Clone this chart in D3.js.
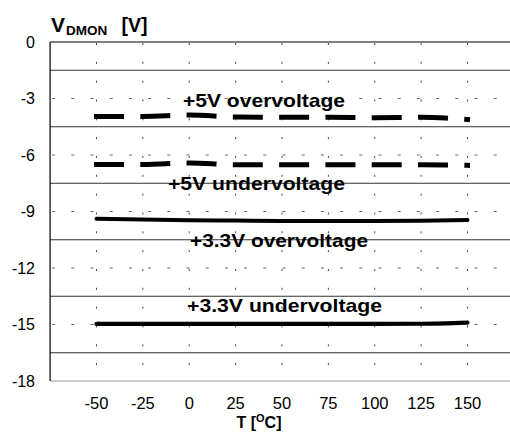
<!DOCTYPE html>
<html>
<head>
<meta charset="utf-8">
<script src="https://cdn.jsdelivr.net/npm/d3@7/dist/d3.min.js"></script>
<style>
  html, body { margin: 0; padding: 0; background: #fff; }
  svg { display: block; font-family: "Liberation Sans", Arial, sans-serif; }
</style>
</head>
<body>
<svg id="chart" width="510" height="432"></svg>
<script>
// ---- data ----
const temps = [-50, -25, 0, 25, 50, 75, 100, 125, 150];
const ov5  = [-3.95, -3.95, -3.88, -3.98, -4.0, -4.0, -4.02, -4.0, -4.12];
const uv5  = [-6.5, -6.5, -6.42, -6.52, -6.52, -6.52, -6.52, -6.52, -6.55];
const ov33 = [-9.38, -9.43, -9.46, -9.48, -9.5, -9.5, -9.5, -9.49, -9.45];
const uv33 = [-14.97, -14.97, -14.97, -14.97, -14.97, -14.97, -14.97, -14.96, -14.9];
const xTicks = [-50, -25, 0, 25, 50, 75, 100, 125, 150];
const yTicks = [0, -3, -6, -9, -12, -15, -18];
const yMinor = [-1.5, -4.5, -7.5, -10.5, -13.5, -16.5];
const labels = ["+5V overvoltage", "+5V undervoltage", "+3.3V overvoltage", "+3.3V undervoltage"];

const svg = d3.select("#chart");
const x = d3.scaleLinear().domain([-75, 175]).range([50.1, 513.9]);
const y = d3.scaleLinear().domain([-18, 0]).range([381, 42]);

// solid horizontal grid lines
svg.append("g").selectAll("line").data(yMinor).join("line")
  .attr("x1", x(-75)).attr("x2", x(175))
  .attr("y1", d => y(d)).attr("y2", d => y(d))
  .attr("stroke", "#333").attr("stroke-width", 1);

// dashed horizontal grid lines at labeled ticks
svg.append("g").selectAll("line").data(yTicks.filter(d => d !== 0 && d !== -18)).join("line")
  .attr("x1", x(-75) + 2).attr("x2", x(175))
  .attr("y1", d => y(d)).attr("y2", d => y(d))
  .attr("stroke", "#666").attr("stroke-width", 1)
  .attr("stroke-dasharray", "3,16.2");

// dashed vertical grid lines
svg.append("g").selectAll("line").data(xTicks).join("line")
  .attr("x1", d => x(d)).attr("x2", d => x(d))
  .attr("y1", y(0) + 1).attr("y2", y(-18))
  .attr("stroke", "#444").attr("stroke-width", 1)
  .attr("stroke-dasharray", "2,16.83");

// frame
svg.append("line").attr("x1", x(-75)).attr("x2", x(175)).attr("y1", y(0)).attr("y2", y(0))
  .attr("stroke", "#555").attr("stroke-width", 1.5);
svg.append("line").attr("x1", x(-75)).attr("x2", x(175)).attr("y1", y(-18)).attr("y2", y(-18))
  .attr("stroke", "#999").attr("stroke-width", 1.2);
svg.append("line").attr("x1", x(-75)).attr("x2", x(-75)).attr("y1", y(0)).attr("y2", y(-18))
  .attr("stroke", "#000").attr("stroke-width", 1.2);

// y tick labels
svg.append("g").selectAll("text").data(yTicks).join("text")
  .attr("x", 35).attr("y", d => y(d)).attr("dy", "0.36em")
  .attr("text-anchor", "end").attr("font-size", 16).text(d => d);

// x tick labels
svg.append("g").selectAll("text").data(xTicks).join("text")
  .attr("x", d => x(d)).attr("y", 409)
  .attr("text-anchor", "middle").attr("font-size", 16.5).text(d => d);

// series
const line = d3.line().x((d, i) => x(temps[i])).y(d => y(d)).curve(d3.curveMonotoneX);
svg.append("path").attr("d", line(ov5)).attr("fill", "none").attr("stroke", "#000")
  .attr("stroke-width", 5).attr("stroke-linecap", "square").attr("stroke-dasharray", "25,21.3");
svg.append("path").attr("d", line(uv5)).attr("fill", "none").attr("stroke", "#000")
  .attr("stroke-width", 5).attr("stroke-linecap", "square").attr("stroke-dasharray", "25,21.3");
svg.append("path").attr("d", line(ov33)).attr("fill", "none").attr("stroke", "#000")
  .attr("stroke-width", 4).attr("stroke-linecap", "round");
svg.append("path").attr("d", line(uv33)).attr("fill", "none").attr("stroke", "#000")
  .attr("stroke-width", 4.2).attr("stroke-linecap", "round");

// series labels
const labPos = [
  {x: 183, y: 106.5, w: 162},
  {x: 168, y: 190, w: 177},
  {x: 190, y: 247, w: 178},
  {x: 187, y: 311.5, w: 195}
];
svg.append("g").selectAll("text").data(labels).join("text")
  .attr("x", (d, i) => labPos[i].x).attr("y", (d, i) => labPos[i].y)
  .attr("font-size", 18.5).attr("font-weight", "bold")
  .attr("textLength", (d, i) => labPos[i].w).attr("lengthAdjust", "spacingAndGlyphs")
  .text(d => d);

// y axis title
const yt = svg.append("text").attr("x", 51).attr("y", 31.5).attr("font-weight", "bold");
yt.append("tspan").attr("font-size", 21).text("V");
yt.append("tspan").attr("font-size", 13.5).attr("dx", 1).attr("dy", 3).text("DMON");
svg.append("text").attr("x", 121.5).attr("y", 31.5).attr("font-weight", "bold")
  .attr("font-size", 19.5).text("[V]");

// x axis title
const xt = svg.append("text").attr("x", 259).attr("y", 428).attr("font-weight", "bold")
  .attr("font-size", 16).attr("text-anchor", "middle");
xt.append("tspan").text("T [");
xt.append("tspan").attr("font-size", 11).attr("dy", -6).text("O");
xt.append("tspan").attr("dy", 6).text("C]");
</script>
</body>
</html>
